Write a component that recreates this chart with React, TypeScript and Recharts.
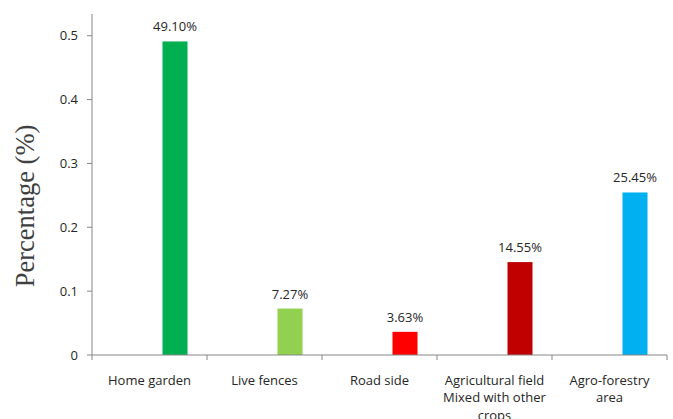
import React from "react";
import { BarChart, Bar, XAxis, YAxis, Cell, LabelList } from "recharts";

const categories = [
  "Home garden",
  "Live fences",
  "Road side",
  "Agricultural field\nMixed with other\ncrops",
  "Agro-forestry\narea",
];
const values = [0.491, 0.0727, 0.0363, 0.1455, 0.2545];
const valueLabels = ["49.10%", "7.27%", "3.63%", "14.55%", "25.45%"];
const barColors = ["#00B050", "#92D050", "#FF0000", "#C00000", "#00B0F0"];
const yTicks = [0, 0.1, 0.2, 0.3, 0.4, 0.5];

const data = categories.map((name, i) => ({
  name,
  value: values[i],
  label: valueLabels[i],
}));

const AXIS = "#868686";
const TEXT = "#262626";
const FONT = "'Open Sans', sans-serif";
const BAR_SHIFT = 25.5;
const TICK_LEN = 5;

const CategoryTick = (props: any) => {
  const { x, y, payload, width, visibleTicksCount, index } = props;
  const half =
    payload && payload.offset ? payload.offset : width / (visibleTicksCount || 5) / 2;
  const lines = String(payload.value).split("\n");
  return (
    <g>
      <line x1={x - half} x2={x - half} y1={y} y2={y + TICK_LEN} stroke={AXIS} />
      {index === (visibleTicksCount || 5) - 1 && (
        <line x1={x + half} x2={x + half} y1={y} y2={y + TICK_LEN} stroke={AXIS} />
      )}
      <text x={x} y={y} textAnchor="middle" fill={TEXT} fontSize={13} fontFamily={FONT}>
        {lines.map((l, i) => (
          <tspan key={i} x={x} dy={i === 0 ? 29.5 : 17.5}>
            {l}
          </tspan>
        ))}
      </text>
    </g>
  );
};

const BarShape = (p: any) => (
  <rect x={p.x + BAR_SHIFT} y={p.y} width={p.width} height={p.height} fill={p.fill} />
);

const ValueLabel = (p: any) => {
  const { x, y, width, index } = p;
  return (
    <text
      x={x + width / 2 + BAR_SHIFT}
      y={y - 10}
      textAnchor="middle"
      fill={TEXT}
      fontSize={13}
      fontFamily={FONT}
    >
      {data[index].label}
    </text>
  );
};

export default function App() {
  return (
    <div style={{ position: "absolute", left: 0, top: 0, width: 673, height: 419, background: "#fff" }}>
      <BarChart
        width={673}
        height={419}
        data={data}
        margin={{ top: 14, right: 6, bottom: 0, left: 0 }}
        barSize={25}
      >
        <XAxis
          dataKey="name"
          height={64}
          axisLine={{ stroke: AXIS }}
          tickLine={false}
          tickSize={0}
          tickMargin={0}
          interval={0}
          tick={<CategoryTick />}
        />
        <YAxis
          width={92}
          domain={[0, 0.534]}
          ticks={yTicks}
          allowDataOverflow
          axisLine={{ stroke: AXIS }}
          tickLine={{ stroke: AXIS }}
          tickSize={5}
          tickMargin={9}
          tick={{ fill: TEXT, fontSize: 13, fontFamily: FONT }}
          label={{
            content: () => (
              <text
                x={25}
                y={206}
                transform="rotate(-90 25 206)"
                textAnchor="middle"
                dominantBaseline="central"
                fill="#404040"
                fontSize={26.5}
                fontFamily="'Liberation Serif', 'Times New Roman', serif"
              >
                Percentage (%)
              </text>
            ),
          }}
        />
        <Bar dataKey="value" isAnimationActive={false} shape={<BarShape />}>
          {data.map((d, i) => (
            <Cell key={i} fill={barColors[i]} />
          ))}
          <LabelList dataKey="value" content={<ValueLabel />} />
        </Bar>
      </BarChart>
    </div>
  );
}
